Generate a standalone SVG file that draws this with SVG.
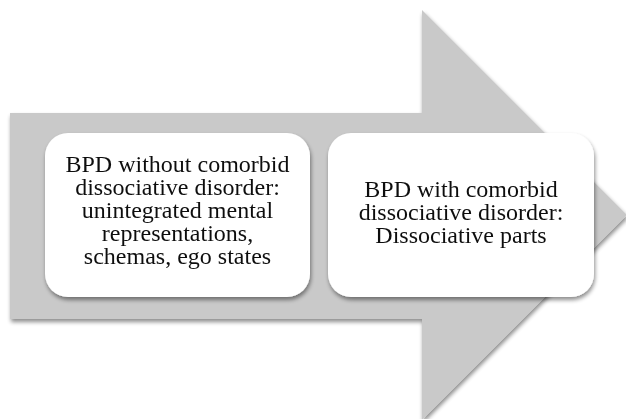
<svg xmlns="http://www.w3.org/2000/svg" width="626" height="419" viewBox="0 0 626 419">
<defs>
<filter id="sh" x="-10%" y="-10%" width="125%" height="125%">
<feGaussianBlur in="SourceAlpha" stdDeviation="2"/>
<feOffset dx="1" dy="3" result="b"/>
<feComponentTransfer><feFuncA type="linear" slope="0.45"/></feComponentTransfer>
<feMerge><feMergeNode/><feMergeNode in="SourceGraphic"/></feMerge>
</filter>
</defs>
<style>
.arrow{fill:#c9c9c9}
.box{fill:#ffffff}
.t{font-family:"Liberation Serif","Times New Roman",serif;font-size:24px;fill:#111;text-anchor:middle}
</style>
<rect width="626" height="419" fill="#ffffff"/>
<g id="arrow" filter="url(#sh)">
<path class="arrow" d="M10,113 H422 V10 L627,215 L422,420 V319 H10 Z"/>
</g>
<g id="node1" filter="url(#sh)">
<rect class="box" x="45" y="133" width="265" height="164" rx="23"/>
<text class="t" x="177.5" y="172">BPD without comorbid</text>
<text class="t" x="177.5" y="195">dissociative disorder:</text>
<text class="t" x="177.5" y="218">unintegrated mental</text>
<text class="t" x="177.5" y="241">representations,</text>
<text class="t" x="177.5" y="264">schemas, ego states</text>
</g>
<g id="node2" filter="url(#sh)">
<rect class="box" x="328" y="133" width="266" height="164" rx="23"/>
<text class="t" x="461" y="197">BPD with comorbid</text>
<text class="t" x="461" y="220">dissociative disorder:</text>
<text class="t" x="461" y="243">Dissociative parts</text>
</g>
<g id="connectors"/>
</svg>
